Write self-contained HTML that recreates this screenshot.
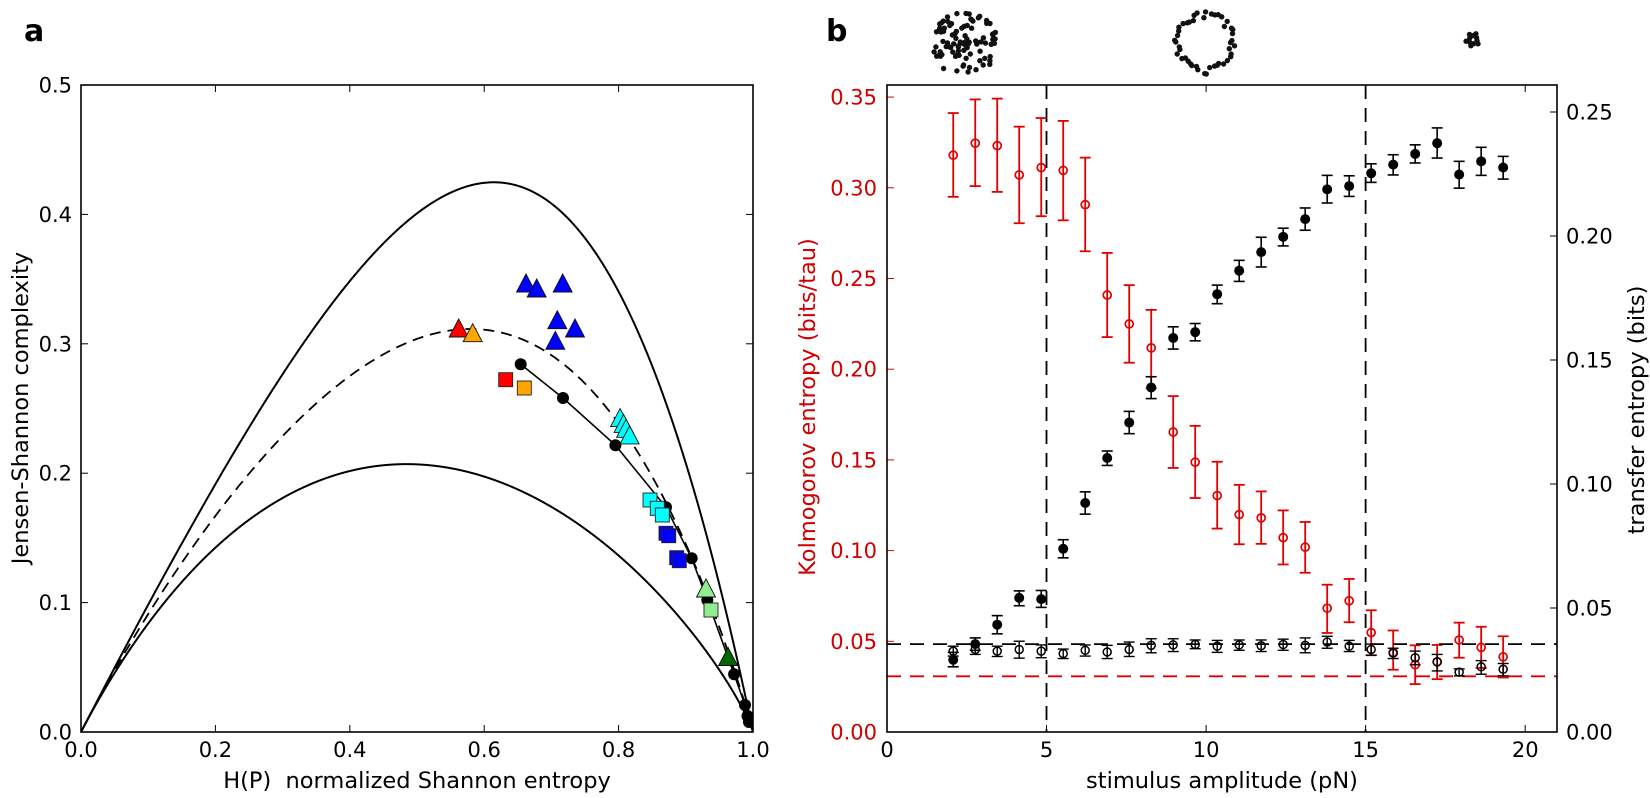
<!DOCTYPE html>
<html><head><meta charset="utf-8">
<style>
html,body{margin:0;padding:0;background:#fff;}
svg{display:block;}
text{font-family:"DejaVu Sans","Liberation Sans",sans-serif;}
</style></head><body>
<svg id="s" xmlns="http://www.w3.org/2000/svg" width="1650" height="798" viewBox="0 0 1650 798">
<defs>
<clipPath id="ca"><rect x="81" y="85" width="672" height="647"/></clipPath>
<clipPath id="cb"><rect x="887" y="85" width="670" height="647"/></clipPath>
</defs>
<rect width="1650" height="798" fill="#fff"/>

<!-- panel labels -->
<text x="24" y="41" font-size="30" font-weight="bold">a</text>
<text x="826" y="41" font-size="30" font-weight="bold">b</text>

<!-- top icons -->
<g id="icons" fill="#111"></g>

<!-- panel a data -->
<g clip-path="url(#ca)">
<g id="acurves"></g>
<g id="adata"></g>
</g>

<!-- panel b data -->
<g clip-path="url(#cb)">
<g id="bdata"></g>
</g>

<!-- panel a frame & ticks -->
<g stroke="#000" stroke-width="1">
<line x1="215.4" y1="732" x2="215.4" y2="725"/><line x1="349.8" y1="732" x2="349.8" y2="725"/><line x1="484.2" y1="732" x2="484.2" y2="725"/><line x1="618.6" y1="732" x2="618.6" y2="725"/>
<line x1="215.4" y1="85" x2="215.4" y2="92"/><line x1="349.8" y1="85" x2="349.8" y2="92"/><line x1="484.2" y1="85" x2="484.2" y2="92"/><line x1="618.6" y1="85" x2="618.6" y2="92"/>
<line x1="81" y1="602.6" x2="88" y2="602.6"/><line x1="81" y1="473.2" x2="88" y2="473.2"/><line x1="81" y1="343.8" x2="88" y2="343.8"/><line x1="81" y1="214.4" x2="88" y2="214.4"/>
<line x1="753" y1="602.6" x2="746" y2="602.6"/><line x1="753" y1="473.2" x2="746" y2="473.2"/><line x1="753" y1="343.8" x2="746" y2="343.8"/><line x1="753" y1="214.4" x2="746" y2="214.4"/>
</g>
<rect x="81" y="85" width="672" height="647" fill="none" stroke="#000" stroke-width="1.6"/>
<g font-size="21" text-anchor="end" fill="#000">
<text x="72" y="739.5">0.0</text><text x="72" y="610.1">0.1</text><text x="72" y="480.7">0.2</text><text x="72" y="351.3">0.3</text><text x="72" y="221.9">0.4</text><text x="72" y="92.5">0.5</text>
</g>
<g font-size="21" text-anchor="middle" fill="#000">
<text x="81" y="757">0.0</text><text x="215.4" y="757">0.2</text><text x="349.8" y="757">0.4</text><text x="484.2" y="757">0.6</text><text x="618.6" y="757">0.8</text><text x="753" y="757">1.0</text>
</g>
<text x="417" y="788" font-size="22.5" text-anchor="middle" xml:space="preserve">H(P)  normalized Shannon entropy</text>
<text transform="translate(28,408) rotate(-90)" font-size="22.5" text-anchor="middle">Jensen-Shannon complexity</text>

<!-- panel b frame & ticks -->
<g stroke="#000" stroke-width="1">
<line x1="1046.5" y1="732" x2="1046.5" y2="725"/><line x1="1206.1" y1="732" x2="1206.1" y2="725"/><line x1="1365.6" y1="732" x2="1365.6" y2="725"/><line x1="1525.2" y1="732" x2="1525.2" y2="725"/>
<line x1="1046.5" y1="85" x2="1046.5" y2="92"/><line x1="1206.1" y1="85" x2="1206.1" y2="92"/><line x1="1365.6" y1="85" x2="1365.6" y2="92"/><line x1="1525.2" y1="85" x2="1525.2" y2="92"/>
<line x1="1557" y1="608" x2="1550" y2="608"/><line x1="1557" y1="484" x2="1550" y2="484"/><line x1="1557" y1="360" x2="1550" y2="360"/><line x1="1557" y1="236" x2="1550" y2="236"/><line x1="1557" y1="112" x2="1550" y2="112"/>
</g>
<g stroke="#d40000" stroke-width="1">
<line x1="887" y1="641.3" x2="894" y2="641.3"/><line x1="887" y1="550.6" x2="894" y2="550.6"/><line x1="887" y1="459.9" x2="894" y2="459.9"/><line x1="887" y1="369.2" x2="894" y2="369.2"/><line x1="887" y1="278.5" x2="894" y2="278.5"/><line x1="887" y1="187.8" x2="894" y2="187.8"/><line x1="887" y1="97.1" x2="894" y2="97.1"/>
</g>
<rect x="887" y="85" width="670" height="647" fill="none" stroke="#000" stroke-width="1.6"/>
<g font-size="21" text-anchor="end" fill="#d00000">
<text x="877" y="739.5">0.00</text><text x="877" y="648.8">0.05</text><text x="877" y="558.1">0.10</text><text x="877" y="467.4">0.15</text><text x="877" y="376.7">0.20</text><text x="877" y="286">0.25</text><text x="877" y="195.3">0.30</text><text x="877" y="104.6">0.35</text>
</g>
<g font-size="21" text-anchor="start" fill="#000">
<text x="1566" y="739.5">0.00</text><text x="1566" y="615.5">0.05</text><text x="1566" y="491.5">0.10</text><text x="1566" y="367.5">0.15</text><text x="1566" y="243.5">0.20</text><text x="1566" y="119.5">0.25</text>
</g>
<g font-size="21" text-anchor="middle" fill="#000">
<text x="887" y="757">0</text><text x="1046.5" y="757">5</text><text x="1206.1" y="757">10</text><text x="1365.6" y="757">15</text><text x="1525.2" y="757">20</text>
</g>
<text x="1222" y="788" font-size="22.5" text-anchor="middle">stimulus amplitude (pN)</text>
<text transform="translate(815,407) rotate(-90)" font-size="22.5" text-anchor="middle" fill="#d00000">Kolmogorov entropy (bits/tau)</text>
<text transform="translate(1644,410) rotate(-90)" font-size="22.5" text-anchor="middle">transfer entropy (bits)</text>
</svg>
<script>
(function(){
var NS="http://www.w3.org/2000/svg";
function el(parent,tag,attrs){var e=document.createElementNS(NS,tag);for(var k in attrs)e.setAttribute(k,attrs[k]);parent.appendChild(e);return e;}

/* ---------- panel a curves (N=120) ---------- */
var N=120, lnN=Math.log(N);
var Q0=-2/(((N+1)/N)*Math.log(N+1)-2*Math.log(2*N)+lnN);
function hc(comps){
  var sp=0,sm=0;
  for(var i=0;i<comps.length;i++){
    var p=comps[i][0],n=comps[i][1];
    if(n<=0)continue;
    if(p>0)sp-=n*p*Math.log(p);
    var m=(p+1/N)/2; sm-=n*m*Math.log(m);
  }
  var H=sp/lnN, J=sm-sp/2-lnN/2;
  return [H,Q0*J*H];
}
var cmin=[];
for(var i=0;i<=3000;i++){var p=1/N+(1-1/N)*i/3000;cmin.push(hc([[p,1],[(1-p)/(N-1),N-1]]));}
function srt(a){a.sort(function(u,v){return u[0]-v[0];});return a;}
srt(cmin);
/* smooth Cmax: Hermite spline through uniform-over-k knots */
var K=[[0,0]];
for(var k=2;k<=N;k++){K.push(hc([[1/k,k],[0,N-k]]));}
var nK=K.length, ms=new Array(nK);
ms[0]=1;
for(var i2=1;i2<nK-1;i2++){
  var h1=K[i2][0]-K[i2-1][0], h2=K[i2+1][0]-K[i2][0];
  var d1=(K[i2][1]-K[i2-1][1])/h1, d2=(K[i2+1][1]-K[i2][1])/h2;
  ms[i2]=(h2*d1+h1*d2)/(h1+h2);
}
ms[nK-1]=(K[nK-1][1]-K[nK-2][1])/(K[nK-1][0]-K[nK-2][0]);
var cmax=[];
for(var s=0;s<nK-1;s++){
  var x0=K[s][0],x1=K[s+1][0],y0=K[s][1],y1=K[s+1][1],hh=x1-x0;
  var steps=s<10?30:6;
  for(var t=0;t<steps;t++){
    var u=t/steps,u2=u*u,u3=u2*u;
    var y=(2*u3-3*u2+1)*y0+(u3-2*u2+u)*hh*ms[s]+(-2*u3+3*u2)*y1+(u3-u2)*hh*ms[s+1];
    cmax.push([x0+u*hh,y]);
  }
}
cmax.push(K[nK-1]);
function interp(a,h){
  var lo=0,hi=a.length-1;
  if(h<=a[0][0])return a[0][1];
  if(h>=a[hi][0])return a[hi][1];
  while(hi-lo>1){var mid=(lo+hi)>>1;if(a[mid][0]<=h)lo=mid;else hi=mid;}
  var tt=(h-a[lo][0])/((a[hi][0]-a[lo][0])||1);
  return a[lo][1]+tt*(a[hi][1]-a[lo][1]);
}
function X(h){return 81+672*h;} function Y(c){return 732-1294*c;}
function pathOf(a){var st="";for(var i=0;i<a.length;i++){st+=(i?"L":"M")+X(a[i][0]).toFixed(2)+" "+Y(a[i][1]).toFixed(2);}return st;}
var AC=document.getElementById('acurves');
el(AC,'path',{d:pathOf(cmax),fill:'none',stroke:'#000','stroke-width':'2','stroke-linejoin':'round'});
el(AC,'path',{d:pathOf(cmin),fill:'none',stroke:'#000','stroke-width':'2','stroke-linejoin':'round'});
var dash=[];
for(var h=0;h<=1.00001;h+=0.0025){dash.push([h,0.5*(interp(cmax,h)+interp(cmin,h))]);}
el(AC,'path',{d:pathOf(dash),fill:'none',stroke:'#000','stroke-width':'1.8','stroke-dasharray':'11 7'});

/* ---------- panel a data ---------- */
var AD=document.getElementById('adata');
var line=[[520.7,364.3],[563,398],[615.4,445.2],[666,507.3],[691.7,558.3],[707.3,600],[734.1,674.2],[745,705],[747.5,716],[749,722]];
el(AD,'polyline',{points:line.map(function(p){return p.join(',');}).join(' '),fill:'none',stroke:'#000','stroke-width':'1.6'});
line.forEach(function(p){el(AD,'circle',{cx:p[0],cy:p[1],r:6,fill:'#000'});});
function tri(cx,cy,c){el(AD,'path',{d:'M'+cx+' '+(cy-9)+'L'+(cx+9.5)+' '+(cy+9)+'L'+(cx-9.5)+' '+(cy+9)+'Z',fill:c,stroke:'#111','stroke-width':'0.9','stroke-linejoin':'miter'});}
function sq(cx,cy,c){el(AD,'rect',{x:cx-7,y:cy-7,width:14,height:14,fill:c,stroke:'#222','stroke-width':'0.9'});}
tri(458.7,328,'#ff0000');tri(472.7,332.7,'#ffa500');
[[526,283],[536.7,288],[562.7,283],[557.3,319.7],[575,328],[555.3,340.3]].forEach(function(p){tri(p[0],p[1],'#0000ff');});
sq(505.7,379.7,'#ff0000');sq(524.3,388,'#ffa500');
[[620.1,417.6],[623.6,423.4],[626.1,428.3],[629.6,434.9]].forEach(function(p){tri(p[0],p[1],'#00ffff');});
[[650,500],[657.3,508.3],[662.3,515]].forEach(function(p){sq(p[0],p[1],'#00ffff');});
[[666,533.3],[668.7,535.7],[676.7,557.7],[679.3,560.7]].forEach(function(p){sq(p[0],p[1],'#0000ff');});
tri(706,588,'#90ee90');sq(711,610,'#90ee90');
tri(728.1,656.5,'#006400');

/* ---------- panel b data ---------- */
var BD=document.getElementById('bdata');
function bx(d){return 887+d*670/1568;} function by(d){return 85+d*647/1568;}
function xi(i){return bx(155+51.48*i);}
var RED='#e00000';
el(BD,'line',{x1:887,y1:by(1433),x2:1557,y2:by(1433),stroke:RED,'stroke-width':'1.8','stroke-dasharray':'14 9'});
el(BD,'line',{x1:1046.5,y1:85,x2:1046.5,y2:732,stroke:'#000','stroke-width':'1.8','stroke-dasharray':'14 9'});
el(BD,'line',{x1:1365.6,y1:85,x2:1365.6,y2:732,stroke:'#000','stroke-width':'1.8','stroke-dasharray':'14 9'});
var red=[[170,68,271],[141,35,245],[147,33,259],[218,101,335],[200,80,318],[207,87,328],[290,176,403],[509,407,611],[579,485,673],[637,545,735],[841,754,928],[914,826,1001],[995,913,1075],[1041,969,1113],[1049,985,1112],[1097,1031,1162],[1120,1059,1182],[1268,1211,1328],[1250,1197,1302],[1327,1273,1382],[1375,1322,1417],[1405,1358,1452],[1398,1357,1440],[1345,1303,1388],[1363,1313,1413],[1386,1336,1436]];
function ebar(x,y1,y2,c,w){
  el(BD,'line',{x1:x,y1:y1,x2:x,y2:y2,stroke:c,'stroke-width':w});
  el(BD,'line',{x1:x-5.5,y1:y1,x2:x+5.5,y2:y1,stroke:c,'stroke-width':w});
  el(BD,'line',{x1:x-5.5,y1:y2,x2:x+5.5,y2:y2,stroke:c,'stroke-width':w});
}
red.forEach(function(r,i){var x=xi(i);ebar(x,by(r[1]),by(r[2]),RED,1.8);el(BD,'circle',{cx:x,cy:by(r[0]),r:4,fill:'none',stroke:RED,'stroke-width':'1.7'});});
var blk=[[1393,1375,1410],[1355,1340,1370],[1308,1286,1330],[1243,1226,1262],[1246,1225,1266],[1124,1102,1146],[1013,986,1040],[904,887,922],[818,791,845],[733,707,760],[613,586,640],[599,578,620],[507,485,530],[450,425,476],[405,369,441],[368,347,390],[325,298,352],[253,219,286],[245,220,270],[214,191,236],[193,169,218],[167,145,189],[141,104,177],[217,185,250],[185,151,219],[200,173,228]];
blk.forEach(function(r,i){var x=xi(i);ebar(x,by(r[1]),by(r[2]),'#000',1.6);el(BD,'circle',{cx:x,cy:by(r[0]),r:5,fill:'#000'});});
var opn=[[1372,1360,1384],[1368,1355,1380],[1372,1360,1385],[1368,1348,1389],[1372,1357,1388],[1378,1367,1390],[1370,1357,1384],[1374,1358,1390],[1368,1350,1385],[1358,1342,1376],[1357,1342,1373],[1356,1345,1366],[1360,1346,1375],[1357,1345,1370],[1359,1345,1373],[1356,1343,1370],[1358,1340,1376],[1350,1336,1365],[1360,1346,1373],[1368,1355,1382],[1377,1365,1390],[1388,1372,1405],[1398,1380,1420],[1423,1415,1432],[1410,1395,1428],[1416,1402,1432]];
opn.forEach(function(r,i){var x=xi(i);ebar(x,by(r[1]),by(r[2]),'#000',1.4);el(BD,'circle',{cx:x,cy:by(r[0]),r:4,fill:'none',stroke:'#000','stroke-width':'1.5'});});
el(BD,'line',{x1:887,y1:by(1355),x2:1557,y2:by(1355),stroke:'#000','stroke-width':'1.8','stroke-dasharray':'14 9'});

/* ---------- top icons ---------- */
var IC=document.getElementById('icons');
var seed=12345;function rnd(){seed|=0;seed=seed+0x6D2B79F5|0;var t=Math.imul(seed^seed>>>15,1|seed);t=t+Math.imul(t^t>>>7,61|t)^t;return((t^t>>>14)>>>0)/4294967296;}
for(var k1=0;k1<95;k1++){var a=2*Math.PI*rnd(),rr=33*Math.pow(rnd(),0.6);el(IC,'circle',{cx:(965+rr*Math.cos(a)).toFixed(1),cy:(44+rr*Math.sin(a)).toFixed(1),r:2.7});}
for(var k2=0;k2<46;k2++){var a2=2*Math.PI*k2/46+(rnd()-0.5)*0.12,r2=28+(rnd()-0.5)*7;el(IC,'circle',{cx:(1205+r2*Math.cos(a2)).toFixed(1),cy:(43+r2*Math.sin(a2)).toFixed(1),r:2.7});}
for(var k3=0;k3<11;k3++){var a3=2*Math.PI*k3/11+rnd()*0.3,r3=(k3%2?6:3.5)+rnd();el(IC,'circle',{cx:(1473+r3*Math.cos(a3)).toFixed(1),cy:(40+r3*Math.sin(a3)).toFixed(1),r:2.7});}
})();
</script>
</body></html>
